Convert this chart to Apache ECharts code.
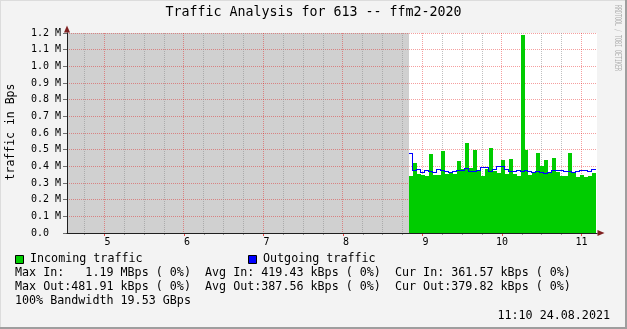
<!DOCTYPE html>
<html>
<head>
<meta charset="utf-8">
<script src="https://cdn.jsdelivr.net/npm/echarts@6/dist/echarts.min.js"></script>
<style>
html,body{margin:0;padding:0;background:#f3f3f3;}
#c{width:627px;height:329px;}
</style>
</head>
<body>
<div id="c"></div>
<script>
// ---- data ----
const titleText = 'Traffic Analysis for 613 -- ffm2-2020';
const yAxisTitle = 'traffic in Bps';
const hourLabels = [5, 6, 7, 8, 9, 10, 11];
const startMinute = 530;      // 08:50, first sample
const stepMinutes = 3;        // sample step
const incomingKBps = [342,420,356,348,344,474,350,350,492,356,364,356,432,385,540,388,498,378,344,384,510,372,360,438,356,444,356,344,1190,498,350,362,480,402,438,362,450,368,344,344,480,362,338,348,336,342,362];
const outgoingKBps = [478,378,382,366,376,372,366,382,376,370,366,372,376,378,388,372,372,376,396,394,372,384,400,400,382,372,372,376,372,378,372,366,372,364,356,362,376,376,376,372,370,366,372,376,376,372,380];
const legendLines = [
  'Max In:   1.19 MBps ( 0%)  Avg In: 419.43 kBps ( 0%)  Cur In: 361.57 kBps ( 0%)',
  'Max Out:481.91 kBps ( 0%)  Avg Out:387.56 kBps ( 0%)  Cur Out:379.82 kBps ( 0%)',
  '100% Bandwidth 19.53 GBps'
];
const timestampText = '11:10 24.08.2021';
const watermarkText = 'RRDTOOL / TOBI OETIKER';

// ---- derived ----
const xMin = 271.7, xMax = 671.7; // minutes of day shown
const hourMinutes = hourLabels.map(h => h * 60);
const minorMinutes = [];
for (let m = Math.ceil(xMin / 15) * 15; m <= xMax; m += 15) if (m % 60 !== 0) minorMinutes.push(m);
const vGridData = minorMinutes.map(m => [m, 0]).concat(hourMinutes.map(m => [m, 1]));
const sampleMinutes = incomingKBps.map((_, i) => startMinute + i * stepMinutes);
const inData = incomingKBps.map((v, i) => [sampleMinutes[i], v * 1000]);
const outData = outgoingKBps.map((v, i) => [sampleMinutes[i], v * 1000]);

const FONT = '"DejaVu Sans Mono", monospace';
const MGRID = 'rgba(229,0,0,0.376)';
const GRID = 'rgba(143,143,143,0.56)';

const chart = echarts.init(document.getElementById('c'), null, {renderer: 'canvas', width: 627, height: 329});

function txt(text, x, y, size, opts) {
  return Object.assign({
    type: 'text', x: x, y: y, silent: true, z: 20,
    style: Object.assign({text: text, font: size + 'px ' + FONT, fill: '#000', align: 'left', verticalAlign: 'middle'}, (opts && opts.style) || {})
  }, (opts && opts.el) || {});
}

const option = {
  animation: false,
  backgroundColor: '#f3f3f3',
  grid: {left: 67, top: 33, width: 530, height: 200, show: true, backgroundColor: '#ffffff', borderWidth: 0, z: 0, containLabel: false, outerBoundsMode: 'none'},
  xAxis: [
    {
      type: 'value', position: 'bottom', min: xMin, max: xMax, z: 2,
      axisLine: {show: false},
      axisTick: {show: true, length: 3, lineStyle: {color: 'rgba(229,0,0,0.7)'}, customValues: hourMinutes},
      axisLabel: {customValues: hourMinutes, formatter: v => { const h = Math.round(v / 60); return h < 10 ? ' ' + h : String(h); },
                  fontFamily: FONT, fontSize: 10, color: '#000', margin: 4},
      splitLine: {show: false}
    },
    {
      type: 'value', position: 'bottom', min: xMin, max: xMax, z: 2,
      axisLine: {show: true, lineStyle: {color: '#7f1f1f'}, symbol: ['none', 'triangle'], symbolSize: [6, 7], symbolOffset: [0, 4]},
      axisTick: {show: true, length: 2, lineStyle: {color: '#a0a0a0'}, customValues: minorMinutes},
      axisLabel: {show: false},
      splitLine: {show: false}
    },
    {
      type: 'value', position: 'bottom', min: xMin, max: xMax, z: 6,
      axisLine: {show: true, lineStyle: {color: '#1f1f1f'}},
      axisTick: {show: false}, axisLabel: {show: false}, splitLine: {show: false}
    }
  ],
  yAxis: [
    {
      type: 'value', position: 'left', min: 0, max: 1.2e6, interval: 1e5, z: 2,
      axisLine: {show: false},
      axisTick: {show: true, length: 4, lineStyle: {color: '#707070'}},
      axisLabel: {formatter: v => v === 0 ? '0.0  ' : (v / 1e6).toFixed(1) + ' M', fontFamily: FONT, fontSize: 10, color: '#000', margin: 6},
      splitLine: {show: true, lineStyle: {color: MGRID, width: 1, type: [1, 1]}}
    },
    {
      type: 'value', position: 'left', offset: 0, min: 0, max: 1.2e6, z: 2,
      axisLine: {show: true, lineStyle: {color: '#7f1f1f'}, symbol: ['none', 'triangle'], symbolSize: [6, 7], symbolOffset: [0, 4]},
      axisTick: {show: false}, axisLabel: {show: false}, splitLine: {show: false}
    },
    {
      type: 'value', position: 'left', offset: 0, min: 0, max: 1.2e6, z: 6,
      axisLine: {show: true, lineStyle: {color: '#1f1f1f'}},
      axisTick: {show: false}, axisLabel: {show: false}, splitLine: {show: false}
    }
  ],
  series: [
    {
      type: 'custom', name: 'unknown', z: 1, silent: true, xAxisIndex: 0, yAxisIndex: 0,
      data: [[startMinute, 0]], encode: {x: 0, y: 1},
      renderItem: function (params, api) {
        const cs = params.coordSys;
        const x1 = Math.round(api.coord([api.value(0), 0])[0]);
        return {type: 'rect', shape: {x: cs.x, y: cs.y, width: x1 - cs.x, height: cs.height}, style: {fill: '#d0d0d0'}};
      }
    },
    {
      type: 'custom', name: 'vgrid', z: 2, silent: true, xAxisIndex: 0, yAxisIndex: 0,
      data: vGridData, encode: {x: 0},
      renderItem: function (params, api) {
        const cs = params.coordSys;
        const x = Math.floor(api.coord([api.value(0), 0])[0]) + 0.5;
        const major = api.value(1) === 1;
        return {type: 'line', shape: {x1: x, y1: cs.y, x2: x, y2: cs.y + cs.height},
                style: {stroke: major ? MGRID : GRID, lineWidth: 1, lineDash: [1, 1]}};
      }
    },
    {
      type: 'custom', name: 'Incoming traffic', z: 3, silent: true, xAxisIndex: 0, yAxisIndex: 0,
      data: inData, encode: {x: 0, y: 1},
      renderItem: function (params, api) {
        const t = api.value(0), v = api.value(1);
        const a = api.coord([t, v]);
        const b = api.coord([t + stepMinutes, 0]);
        const x0 = Math.round(a[0]), x1 = Math.round(b[0]);
        const y0 = Math.round(a[1]), y1 = Math.round(b[1]);
        return {type: 'rect', shape: {x: x0, y: y0, width: x1 - x0, height: y1 - y0}, style: {fill: '#00cc00'}};
      }
    },
    {
      type: 'custom', name: 'Outgoing traffic', z: 4, silent: true, xAxisIndex: 0, yAxisIndex: 0,
      data: outData, encode: {x: 0, y: 1},
      renderItem: function (params, api) {
        const i = params.dataIndexInside;
        const n = outData.length;
        const t = api.value(0), v = api.value(1);
        const a = api.coord([t, v]);
        const b = api.coord([t + stepMinutes, v]);
        const xs = Math.round(a[0]), xe = Math.round(b[0]);
        const y = Math.floor(a[1]) + 0.5;
        const children = [{type: 'line', shape: {x1: xs, y1: y, x2: xe, y2: y}, style: {stroke: '#0000ff', lineWidth: 1}}];
        if (i < n - 1) {
          const nv = api.value(1, i + 1);
          const y2 = Math.floor(api.coord([t + stepMinutes, nv])[1]) + 0.5;
          if (y2 !== y) {
            children.push({type: 'line', shape: {x1: xe - 0.5, y1: Math.min(y, y2) - 0.5, x2: xe - 0.5, y2: Math.max(y, y2) + 0.5},
                           style: {stroke: '#0000ff', lineWidth: 1}});
          }
        }
        return {type: 'group', children: children};
      }
    }
  ],
  graphic: [
    // frame shading
    {type: 'line', silent: true, z: 30, shape: {x1: 0, y1: 0.5, x2: 627, y2: 0.5}, style: {stroke: '#dcdcdc', lineWidth: 1}},
    {type: 'line', silent: true, z: 30, shape: {x1: 0.5, y1: 0, x2: 0.5, y2: 329}, style: {stroke: '#dcdcdc', lineWidth: 1}},
    {type: 'line', silent: true, z: 30, shape: {x1: 626, y1: 0, x2: 626, y2: 329}, style: {stroke: '#9e9e9e', lineWidth: 2}},
    {type: 'line', silent: true, z: 30, shape: {x1: 0, y1: 328, x2: 627, y2: 328}, style: {stroke: '#9e9e9e', lineWidth: 2}},
    // title
    txt(titleText, 313.5, 13, 13.3, {style: {align: 'center'}}),
    // y axis title
    txt(yAxisTitle, 11, 132, 11.5, {style: {align: 'center'}, el: {rotation: Math.PI / 2}}),
    // watermark
    txt(watermarkText, 617, 5, 9, {style: {fill: '#b0b0b0'}, el: {rotation: -Math.PI / 2, scaleX: 0.554}}),
    // legend
    {type: 'rect', silent: true, z: 20, shape: {x: 15.5, y: 255.5, width: 8, height: 8}, style: {fill: '#00cc00', stroke: '#000', lineWidth: 1}},
    txt('Incoming traffic', 30, 259, 11.7),
    {type: 'rect', silent: true, z: 20, shape: {x: 248.5, y: 255.5, width: 8, height: 8}, style: {fill: '#0000ff', stroke: '#000', lineWidth: 1}},
    txt('Outgoing traffic', 263, 259, 11.7),
    txt(legendLines[0], 15, 273, 11.7),
    txt(legendLines[1], 15, 287, 11.7),
    txt(legendLines[2], 15, 301, 11.7),
    txt(timestampText, 610, 316, 11.7, {style: {align: 'right'}})
  ]
};
chart.setOption(option);
</script>
</body>
</html>
